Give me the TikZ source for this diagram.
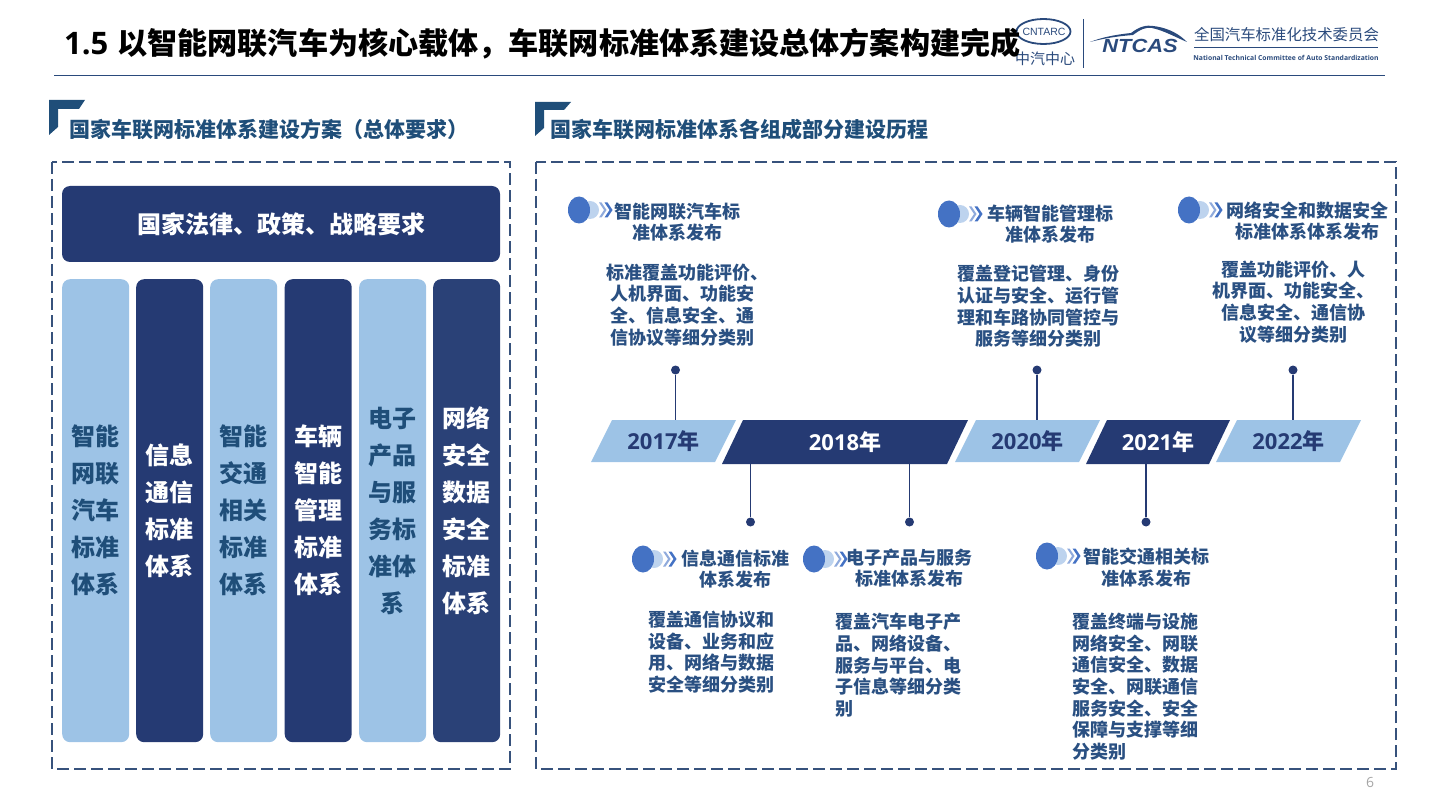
\documentclass[tikz,border=0pt]{standalone}
\usepackage{fontspec}
\setmainfont{Noto Sans CJK SC}
\newfontfamily\osf{Open Sans}
\newfontfamily\lsf{Liberation Sans}
\definecolor{navy}{HTML}{253A73}
\definecolor{navyb}{HTML}{2A4177}
\definecolor{sky}{HTML}{9DC3E6}
\definecolor{head}{HTML}{1F4E79}
\definecolor{framec}{HTML}{37527C}
\definecolor{ink}{HTML}{2A5082}
\definecolor{blue1}{HTML}{4472C4}
\definecolor{blue2}{HTML}{BDD3EE}
\definecolor{blue3}{HTML}{8FAADC}
\definecolor{logoc}{HTML}{2A4A7C}
\tikzset{
  framebox/.style={draw=framec,dash pattern=on 12pt off 5pt},
  colbox/.style={rounded corners=8pt,inner sep=0pt,align=center,anchor=north west,minimum width=67pt,minimum height=463pt,font=\fontsize{24}{37}\selectfont\bfseries},
  lightcol/.style={colbox,fill=sky,text=head},
  darkcol/.style={colbox,fill=navy,text=white},
  hd/.style={text=head,font=\fontsize{21}{24}\selectfont\bfseries,anchor=west,inner sep=0pt},
  sub/.style={text=ink,font=\fontsize{18}{21.7}\selectfont\bfseries,align=center,inner sep=0pt},
  bodyc/.style={text=ink,font=\fontsize{18}{21.6}\selectfont\bfseries,align=center,inner sep=0pt},
  bodyl/.style={text=ink,font=\fontsize{18}{21.6}\selectfont\bfseries,align=left,inner sep=0pt},
  dotn/.style={circle,fill=navy,minimum size=9pt,inner sep=0pt},
  conn/.style={draw=navy,line width=1.3pt},
}
\newcommand{\yearbar}[9]{%
  \fill[#8] (#2,#7) -- (#3,#6) -- (#4,#6) -- ({#2+#4-#3},#7) -- cycle;
  \node[inner sep=0pt,minimum width={(#4-#2)*1pt},minimum height={(#7-#6)*1pt},text=#9] (#1) at ({(#2+#4)/2},{(#6+#7)/2}) {\raisebox{.7pt}{\fontsize{22}{26}\selectfont\bfseries\yeartext}};
}
\newcommand{\markb}[2]{%
  \begin{scope}[shift={(#1,#2)}]
    \fill[blue2] (11,0) ellipse [x radius=9,y radius=9];
    \fill[blue1] (0,0) ellipse [x radius=11,y radius=13.5];
    \fill[blue3] (20,-7.5) -- (22.5,-7.5) -- (27.5,0) -- (22.5,7.5) -- (20,7.5) -- (25,0) -- cycle;
    \fill[blue1] (25.5,-7.5) -- (28.5,-7.5) -- (33.5,0) -- (28.5,7.5) -- (25.5,7.5) -- (30.5,0) -- cycle;
  \end{scope}}
\begin{document}
\begin{tikzpicture}[x=1pt,y=-1pt]
\useasboundingbox (0,0) rectangle (1440,810);
% header
\draw[draw=logoc,line width=1pt] (54,76) -- (1385,76);
% logo
\draw[logoc,line width=1.8pt] (1043.5,31.5) ellipse [x radius=27,y radius=12.5];
\node[text=logoc,font=\lsf\fontsize{10.5}{12}\selectfont,inner sep=0pt] (lgA) at (1044,31.5) {CNTARC};
\node[text=logoc,font=\fontsize{15}{17}\selectfont,inner sep=0pt] (lgB) at (1045,59) {中汽中心};
\draw[logoc,line width=.8pt] (1083.5,19) -- (1083.5,68);
\fill[logoc] (1090,42) .. controls (1105,36) and (1122,34) .. (1131,33) .. controls (1140,26) and (1147,25) .. (1153,26) .. controls (1170,28) and (1180,35) .. (1187,42) .. controls (1175,37) and (1165,31) .. (1152,28) .. controls (1146,27) and (1141,29) .. (1133,35) .. controls (1120,36) and (1105,38) .. (1090,42) -- cycle;
\node[text=logoc,font=\lsf\fontsize{19}{20}\selectfont\bfseries\itshape,inner sep=0pt,anchor=center,xscale=1.15] (lgC) at (1140,46) {NTCAS};
\node[text=logoc,font=\fontsize{15.4}{18}\selectfont,inner sep=0pt] (lgD) at (1286.5,35) {全国汽车标准化技术委员会};
\draw[logoc,line width=1pt] (1194,47.5) -- (1378,47.5);
\node[text=logoc,font=\osf\fontsize{6.8}{9}\selectfont\bfseries,inner sep=0pt] (lgE) at (1286,58) {National Technical Committee of Auto Standardization};
\node[text=black,font=\fontsize{30.1}{36}\selectfont\bfseries,anchor=west,inner sep=0pt] (title) at (64,44) {{\osf\fontsize{31}{36}\selectfont 1.5}\hspace{9pt}以智能网联汽车为核心载体，车联网标准体系建设总体方案构建完成};
% section headings
\fill[head] (49,100) -- (85,100) -- (79,109) -- (58,109) -- (58,127) -- (49,135) -- cycle;
\fill[head] (535,102) -- (571,102) -- (564,110) -- (544,110) -- (544,128) -- (535,136) -- cycle;
\node[hd] (h1) at (69,129.5) {国家车联网标准体系建设方案（总体要求）};
\node[hd] (h2) at (550,129.5) {国家车联网标准体系各组成部分建设历程};
% frames
\draw[framebox,line width=1.6pt] (52,162) rectangle (510,769);
\draw[framebox,line width=1.1pt] (536,162) rectangle (1396,769);
% left panel
\node[fill=navy,rounded corners=8pt,minimum width=438pt,minimum height=76pt,inner sep=0pt,text=white,font=\fontsize{24}{28}\selectfont\bfseries] (banner) at (281,224) {国家法律、政策、战略要求};
\node[lightcol] (c1) at (62,279) {智能\\网联\\汽车\\标准\\体系};
\node[darkcol] (c2) at (136,279) {信息\\通信\\标准\\体系};
\node[lightcol] (c3) at (210,279) {智能\\交通\\相关\\标准\\体系};
\node[darkcol] (c4) at (284.5,279) {车辆\\智能\\管理\\标准\\体系};
\node[lightcol] (c5) at (359,279) {电子\\产品\\与服\\务标\\准体\\系};
\node[darkcol,fill=navyb] (c6) at (433,279) {网络\\安全\\数据\\安全\\标准\\体系};
% timeline bars
\def\yeartext{{\osf 2017}年}
\yearbar{y17}{591}{612}{736}{}{420}{462}{sky}{navy}
\def\yeartext{{\osf 2018}年}
\yearbar{y18}{722}{743}{968}{}{420}{464}{navy}{white}
\def\yeartext{{\osf 2020}年}
\yearbar{y20}{955}{976}{1100}{}{420}{462}{sky}{navy}
\def\yeartext{{\osf 2021}年}
\yearbar{y21}{1086}{1107}{1230}{}{420}{464}{navy}{white}
\def\yeartext{{\osf 2022}年}
\yearbar{y22}{1216}{1237}{1361}{}{420}{462}{sky}{navy}
% dots and connectors
\node[dotn] (d1) at (675.5,370) {};
\node[dotn] (d2) at (1037,370) {};
\node[dotn] (d3) at (1293,370) {};
\node[dotn] (d4) at (750.5,522) {};
\node[dotn] (d5) at (909.5,522) {};
\node[dotn] (d6) at (1146,522) {};
\draw[conn] (d1) -- (d1 |- y17.north);
\draw[conn] (d2) -- (d2 |- y20.north);
\draw[conn] (d3) -- (d3 |- y22.north);
\draw[conn] (d4) -- (d4 |- y18.south);
\draw[conn] (d5) -- (d5 |- y18.south);
\draw[conn] (d6) -- (d6 |- y21.south);
% markers
\markb{579}{210}
\markb{949}{214}
\markb{1189}{210}
\markb{643}{559}
\markb{814}{559}
\markb{1047}{556}
% items
\node[sub] (s1) at (677.5,222) {智能网联汽车标\\准体系发布};
\node[bodyc] (b1) at (682,305) {\hspace*{10pt}标准覆盖功能评价、\\人机界面、功能安\\全、信息安全、通\\信协议等细分类别};
\node[sub] (s2) at (1050.5,224) {车辆智能管理标\\准体系发布};
\node[bodyc] (b2) at (1038.5,306.5) {覆盖登记管理、身份\\认证与安全、运行管\\理和车路协同管控与\\服务等细分类别};
\node[sub] (s3) at (1307,221) {网络安全和数据安全\\标准体系体系发布};
\node[bodyc] (b3) at (1293,302) {覆盖功能评价、人\\机界面、功能安全、\\信息安全、通信协\\议等细分类别};
\node[sub] (s4) at (735.5,569) {信息通信标准\\体系发布};
\node[bodyl,anchor=north west] (b4) at (648,611) {覆盖通信协议和\\设备、业务和应\\用、网络与数据\\安全等细分类别};
\node[sub] (s5) at (909,568) {电子产品与服务\\标准体系发布};
\node[bodyl,anchor=north west] (b5) at (835,613) {覆盖汽车电子产\\品、网络设备、\\服务与平台、电\\子信息等细分类\\别};
\node[sub] (s6) at (1146,567.5) {智能交通相关标\\准体系发布};
\node[bodyl,anchor=north west] (b6) at (1072,613) {覆盖终端与设施\\网络安全、网联\\通信安全、数据\\安全、网联通信\\服务安全、安全\\保障与支撑等细\\分类别};
\node[text=gray!70,font=\osf\fontsize{14}{16}\selectfont,inner sep=0pt] (pg) at (1370,782) {6};
\end{tikzpicture}
\end{document}
